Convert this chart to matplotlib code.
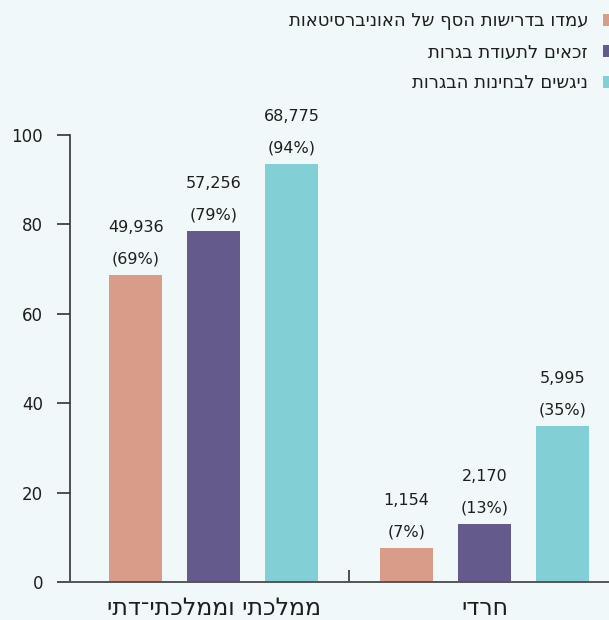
import numpy as np
import matplotlib.pyplot as plt
from matplotlib.patches import Patch

plt.rcParams['font.family'] = ['DejaVu Sans']

# data
groups = ['ממלכתי וממלכתי־דתי', 'חרדי']
series = ['עמדו בדרישות הסף של האוניברסיטאות', 'זכאים לתעודת בגרות', 'ניגשים לבחינות הבגרות']
heights = [[68.7, 78.5, 93.5], [7.6, 13.0, 35.0]]
counts = [[49936, 57256, 68775], [1154, 2170, 5995]]
pcts = [[69, 79, 94], [7, 13, 35]]
colors = ['#D89C88', '#645B8C', '#82CFD5']
bg = '#F1F8FA'
ink = '#1E1E1E'


def rtl(s):
    # matplotlib has no bidi, so reverse hebrew for visual order
    return s[::-1]


fig = plt.figure(figsize=(6.09, 6.20), dpi=100, facecolor=bg)
ax = fig.add_axes([70 / 609, 38 / 620, 539 / 609, 447 / 620])
ax.set_facecolor(bg)

step = 0.288
width = 0.196
for g in range(len(groups)):
    for s in range(len(series)):
        x = g + (s - 1) * step
        ax.bar(x, heights[g][s], width=width, color=colors[s], zorder=2)
        ax.annotate(f'{counts[g][s]:,}', (x, heights[g][s]), xytext=(0, 34),
                    textcoords='offset points', ha='center', va='center',
                    fontsize=11.5, color=ink, annotation_clip=False)
        ax.annotate(f'({pcts[g][s]}%)', (x, heights[g][s]), xytext=(0, 11.5),
                    textcoords='offset points', ha='center', va='center',
                    fontsize=11.5, color=ink, annotation_clip=False)

ax.set_xlim(-0.53, 1.459)
ax.set_ylim(0, 100)
ax.set_yticks(np.arange(0, 101, 20))
ax.tick_params(axis='y', length=9.4, width=1.2, color='#333333',
               labelsize=12, labelcolor=ink, pad=10)

ax.set_xticks([0, 1])
ax.set_xticklabels([rtl(g) for g in groups])
ax.set_xticks([0.5], minor=True)
ax.tick_params(axis='x', which='major', length=0, labelsize=17,
               labelcolor=ink, pad=10)
ax.tick_params(axis='x', which='minor', direction='in', length=9,
               width=1.2, color='#333333')

for side in ['top', 'right']:
    ax.spines[side].set_visible(False)
ax.spines['left'].set_bounds(0, 100)
ax.spines['left'].set_color('#333333')
ax.spines['bottom'].set_color('#555555')
ax.spines['left'].set_linewidth(1.2)
ax.spines['bottom'].set_linewidth(1.4)

handles = [Patch(facecolor=c, edgecolor='none') for c in colors]
fig.legend(handles, [rtl(s) for s in series], loc='upper right',
           bbox_to_anchor=(1.01, 0.98), frameon=False, markerfirst=False,
           fontsize=13, labelcolor=ink, handlelength=0.67, handleheight=0.67,
           handletextpad=0.83, labelspacing=0.72, borderpad=0, borderaxespad=0)

fig.savefig('out.png', dpi=100, facecolor=bg)
